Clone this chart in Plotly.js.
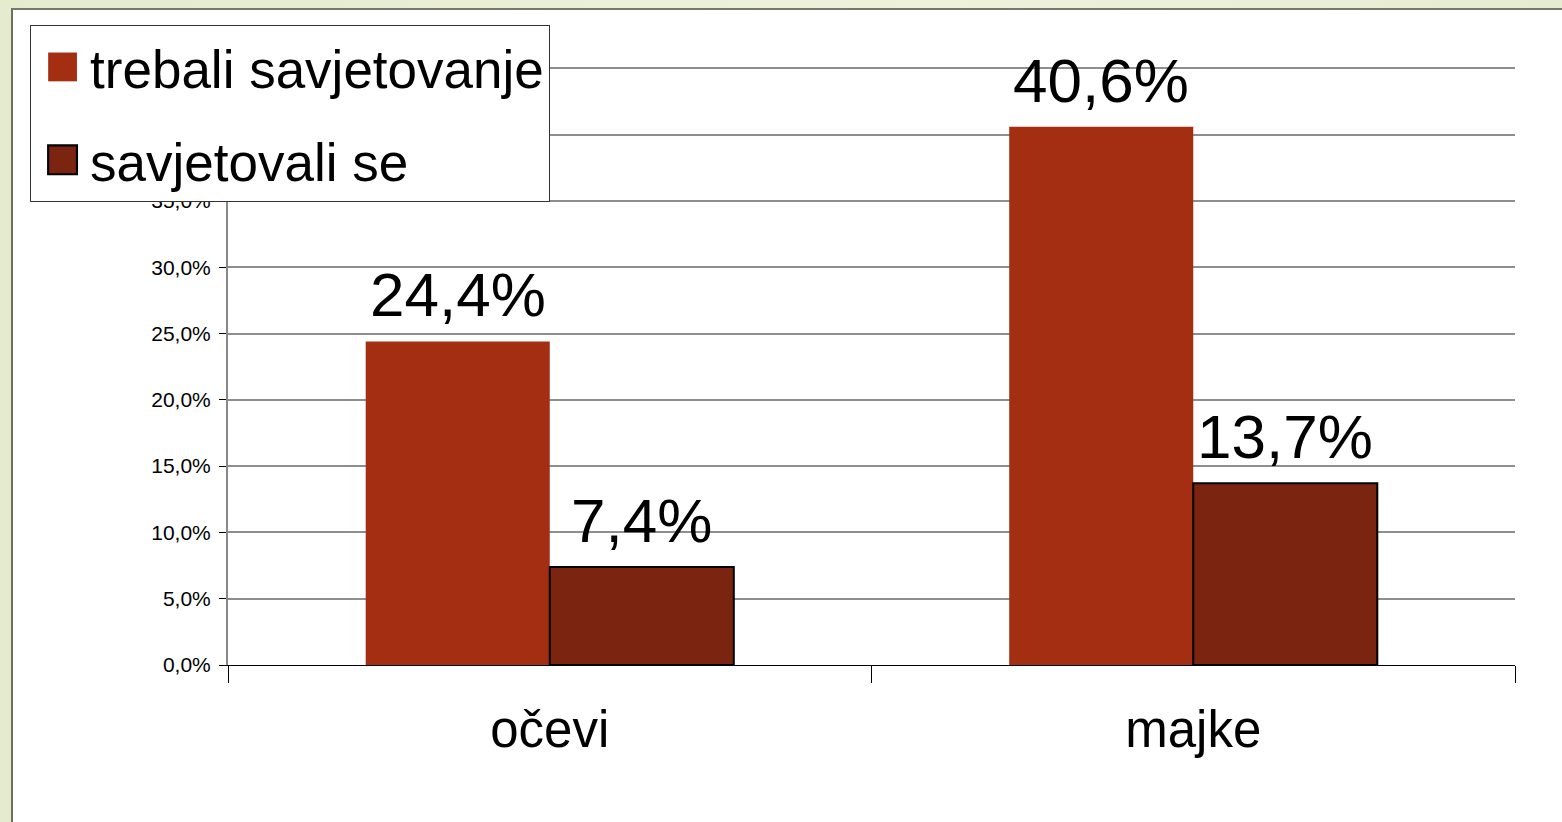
<!DOCTYPE html>
<html>
<head>
<meta charset="utf-8">
<script src="https://cdn.plot.ly/plotly-3.0.1.min.js"></script>
<style>
  html, body { margin:0; padding:0; width:1562px; height:822px; overflow:hidden;
    background: linear-gradient(90deg, #e4ebcf 0%, #eef2dc 60%, #e6ecd2 100%); }
  #chart { position:absolute; left:11px; top:8px; width:1551px; height:814px;
    background:#fff; border-top:2px solid #77776a; border-left:2px solid #6f6f5e; box-sizing:border-box; }
</style>
</head>
<body>
<div id="chart"></div>
<script>
const categories = ['očevi', 'majke'];
const seriesNames = ['trebali savjetovanje', 'savjetovali se'];
const trebali = [24.4, 40.6];
const savjetovali = [7.4, 13.7];
const yTicks = [0, 5, 10, 15, 20, 25, 30, 35, 40, 45];
const yTickLabels = yTicks.map(v => v.toFixed(1).replace('.', ',') + '%');

const fmt = v => v.toFixed(1).replace('.', ',') + '%';
const labelFont = {family: 'Liberation Sans, Arial, sans-serif', size: 62, color: '#000'};

const traces = [
  {
    type: 'bar', name: seriesNames[0], x: categories, y: trebali,
    marker: {color: '#a32e12', line: {width: 0}}, legendgroup: 'a'
  },
  {
    type: 'bar', name: seriesNames[1], x: categories, y: savjetovali,
    marker: {color: '#7b2410', line: {width: 2, color: '#000'}}, legendgroup: 'b'
  }
];

const annotations = [];
const series = [trebali, savjetovali];
const shifts = [-92, 92];
series.forEach((vals, s) => {
  vals.forEach((v, i) => {
    annotations.push({
      x: categories[i], y: v, xref: 'x', yref: 'y', text: fmt(v),
      showarrow: false, xanchor: 'center', yanchor: 'bottom',
      xshift: shifts[s], yshift: 10, font: labelFont
    });
  });
});

const layout = {
  width: 1549, height: 812,
  margin: {l: 215, r: 47, t: 55, b: 157, pad: 0, autoexpand: false},
  paper_bgcolor: '#fff', plot_bgcolor: '#fff',
  font: {family: 'Liberation Sans, Arial, sans-serif', color: '#000'},
  barmode: 'group', bargap: 0.428, bargroupgap: 0,
  showlegend: true,
  annotations: annotations,
  legend: {
    x: -0.1538, y: 1.0667, xanchor: 'left', yanchor: 'top',
    bgcolor: '#fff', bordercolor: '#333', borderwidth: 1,
    font: {size: 53, color: '#000'}, traceorder: 'grouped', tracegroupgap: 21,
    itemwidth: 49
  },
  xaxis: {
    type: 'category', tickson: 'boundaries', ticks: 'outside', ticklen: 17, tickcolor: '#000', tickwidth: 1,
    showline: true, linecolor: '#000', linewidth: 1, showgrid: false,
    tickfont: {size: 51, color: '#000'}, zeroline: false, ticklabelstandoff: 20
  },
  yaxis: {
    range: [0, 45.25], tickvals: yTicks, ticktext: yTickLabels,
    ticks: 'outside', ticklen: 7, tickcolor: '#000',
    showline: true, linecolor: '#888', linewidth: 2,
    showgrid: true, gridcolor: '#8e8e8e', gridwidth: 2,
    tickfont: {size: 21, color: '#000'}, zeroline: false, ticklabelstandoff: 4
  }
};

Plotly.newPlot('chart', traces, layout, {displayModeBar: false, staticPlot: true}).then(gd => {
  gd.querySelectorAll('.legend .legendpoints path').forEach((p, i) => {
    if (i === 1) p.style.strokeWidth = '0.9px';
    const t = p.getAttribute('transform') || '';
    p.setAttribute('transform', t + ' translate(2,0) scale(2.4)');
  });
});
</script>
</body>
</html>
